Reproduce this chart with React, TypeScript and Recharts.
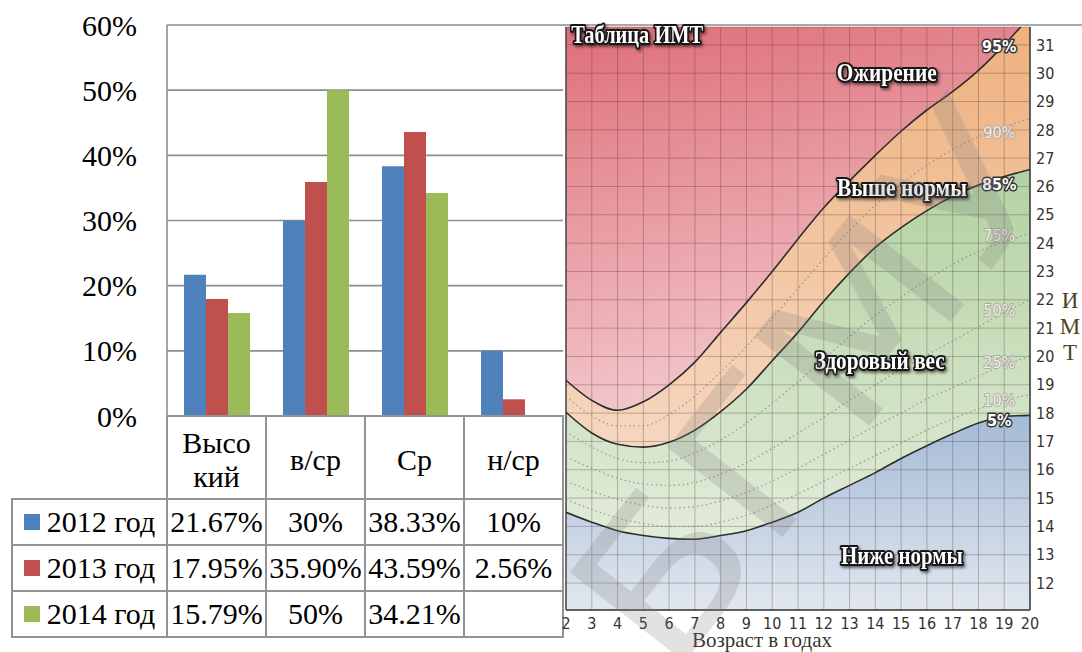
import React from 'react';
import {
  BarChart,
  Bar,
  XAxis,
  YAxis,
  CartesianGrid,
  ComposedChart,
  Area,
  Line,
  ReferenceLine,
  ReferenceDot,
  Label,
} from 'recharts';

// ---- левая диаграмма: уровни по годам ----
const categories = ['Высо\nкий', 'в/ср', 'Ср', 'н/ср'];
const yearNames = ['2012 год', '2013 год', '2014 год'];
const share2012 = [21.67, 30, 38.33, 10];
const share2013 = [17.95, 35.9, 43.59, 2.56];
const share2014 = [15.79, 50, 34.21, null];
const percentTicks = [0, 10, 20, 30, 40, 50, 60];
const yearColors = ['#4F81BD', '#C0504D', '#9BBB59'];

// ---- таблица ИМТ (центильные кривые) ----
const ages = [2, 3, 4, 5, 6, 7, 8, 9, 10, 11, 12, 13, 14, 15, 16, 17, 18, 19, 20];
const bmiTicks = [12, 13, 14, 15, 16, 17, 18, 19, 20, 21, 22, 23, 24, 25, 26, 27, 28, 29, 30, 31];
const p5 = [14.5, 14.15, 13.85, 13.68, 13.58, 13.55, 13.68, 13.85, 14.15, 14.5, 15.0, 15.45, 15.9, 16.4, 16.85, 17.27, 17.65, 17.88, 17.92];
const p10 = [14.95, 14.6, 14.3, 14.1, 14.0, 14.0, 14.15, 14.4, 14.75, 15.15, 15.6, 16.05, 16.5, 16.95, 17.4, 17.8, 18.15, 18.45, 18.65];
const p25 = [15.6, 15.25, 14.95, 14.75, 14.65, 14.7, 14.9, 15.2, 15.6, 16.05, 16.55, 17.05, 17.55, 18.0, 18.5, 18.9, 19.3, 19.7, 20.0];
const p50 = [16.45, 16.05, 15.7, 15.5, 15.45, 15.55, 15.85, 16.25, 16.75, 17.3, 17.85, 18.45, 19.0, 19.55, 20.05, 20.55, 21.05, 21.55, 22.0];
const p75 = [17.35, 16.8, 16.4, 16.25, 16.3, 16.6, 17.05, 17.65, 18.35, 19.1, 19.9, 20.7, 21.45, 22.1, 22.7, 23.25, 23.7, 24.05, 24.35];
const p85 = [18.03, 17.3, 16.9, 16.8, 16.97, 17.4, 18.05, 18.85, 19.85, 20.85, 21.95, 22.95, 23.85, 24.55, 25.15, 25.65, 26.05, 26.35, 26.6];
const p90 = [18.6, 17.9, 17.55, 17.55, 17.95, 18.6, 19.45, 20.35, 21.35, 22.4, 23.45, 24.45, 25.35, 26.1, 26.75, 27.3, 27.75, 28.1, 28.4];
const p95 = [19.16, 18.45, 18.1, 18.4, 19.0, 19.8, 20.85, 21.9, 23.0, 24.15, 25.25, 26.2, 27.1, 27.95, 28.7, 29.35, 30.1, 31.0, 32.0];

const barData = categories.map((category, i) => ({
  category,
  y2012: share2012[i],
  y2013: share2013[i],
  y2014: share2014[i],
}));
const tableRows = [share2012, share2013, share2014];
const barKeys = ['y2012', 'y2013', 'y2014'];

const bmiData = ages.map((age, i) => ({
  age,
  p5: p5[i],
  p10: p10[i],
  p25: p25[i],
  p50: p50[i],
  p75: p75[i],
  p85: p85[i],
  p90: p90[i],
  p95: p95[i],
}));

const SERIF = '"Liberation Serif", "Times New Roman", Times, serif';
const NARROW = '"Liberation Sans Narrow", "DejaVu Sans Condensed", Roboto, sans-serif';

const fmt = (v: number | null) =>
  v == null ? '' : Number.isInteger(v) ? `${v}%` : `${v.toFixed(2)}%`;

// границы таблицы под диаграммой
const COLS = [12, 167, 266, 365, 464, 563];
const ROWS = [416, 499, 545, 591, 637];

function cell(x0: number, x1: number, y0: number, y1: number): React.CSSProperties {
  return {
    position: 'absolute',
    left: x0 - 1,
    top: y0 - 1,
    width: x1 - x0 + 2,
    height: y1 - y0 + 2,
    boxSizing: 'border-box',
    border: '2px solid #939393',
    display: 'flex',
    alignItems: 'center',
    justifyContent: 'center',
    whiteSpace: 'nowrap',
    fontFamily: SERIF,
    fontSize: 30,
    color: '#000',
  };
}

function DataTable() {
  return (
    <div style={{ position: 'absolute', left: 0, top: 0 }}>
      {categories.map((c, i) => (
        <div
          key={c}
          style={{
            ...cell(COLS[i + 1], COLS[i + 2], ROWS[0], ROWS[1]),
            whiteSpace: 'pre-line',
            textAlign: 'center',
            lineHeight: '34px',
            paddingTop: 4,
          }}
        >
          {c}
        </div>
      ))}
      {tableRows.map((row, r) => (
        <React.Fragment key={yearNames[r]}>
          <div style={cell(COLS[0], COLS[1], ROWS[r + 1], ROWS[r + 2])}>
            <span style={{ display: 'inline-block', width: 16, height: 16, background: yearColors[r], marginRight: 7 }} />
            <span style={{ fontFamily: SERIF }}>{yearNames[r]}</span>
          </div>
          {row.map((v, i) => (
            <div key={i} style={cell(COLS[i + 1], COLS[i + 2], ROWS[r + 1], ROWS[r + 2])}>
              {fmt(v)}
            </div>
          ))}
        </React.Fragment>
      ))}
    </div>
  );
}

function LevelsChart() {
  return (
    <div style={{ position: 'absolute', left: 0, top: 0 }}>
      <BarChart width={563} height={440} data={barData} margin={{ top: 25, right: 0, left: 0, bottom: 24 }} barGap={0} barSize={22}>
        <CartesianGrid vertical={false} stroke="#8e8e8e" strokeWidth={1.6} />
        <XAxis dataKey="category" hide />
        <YAxis
          width={167}
          domain={[0, 60]}
          ticks={percentTicks}
          interval={0}
          tickFormatter={(v) => `${v}%`}
          tickLine={false}
          tickSize={0}
          tickMargin={30}
          axisLine={{ stroke: '#8e8e8e', strokeWidth: 1.6 }}
          tick={{ fontSize: 30, fill: '#000', fontFamily: SERIF }}
        />
        {barKeys.map((k, i) => (
          <Bar key={k} dataKey={k} name={yearNames[i]} fill={yearColors[i]} isAnimationActive={false} />
        ))}
      </BarChart>
    </div>
  );
}

const LABEL_INDEX = ages.indexOf(19);

const percentileLabel = (text: string, dy: number, strong: boolean) => (props: any) => {
  if (props.index !== LABEL_INDEX) return <g />;
  const x = props.x ?? props.viewBox?.x;
  const y = props.y ?? props.viewBox?.y;
  return (
    <text
      x={x - 5}
      y={y + dy}
      textAnchor="middle"
      dominantBaseline="central"
      fontFamily={NARROW}
      fontSize={16}
      fontWeight={strong ? 'bold' : 'normal'}
      fill={strong ? '#ffffff' : '#f3eee9'}
      stroke={strong ? '#333' : '#aaa39c'}
      strokeWidth={strong ? 2.8 : 1.6}
      paintOrder="stroke"
      strokeLinejoin="round"
    >
      {text}
    </text>
  );
};

function zoneLabel(text: string, width: number) {
  return (p: any) => (
    <text
      x={p.cx}
      y={p.cy}
      textAnchor="middle"
      dominantBaseline="central"
      fontFamily={SERIF}
      fontWeight="bold"
      fontSize={25}
      fill="#ffffff"
      stroke="#151515"
      strokeWidth={4}
      paintOrder="stroke"
      strokeLinejoin="round"
      textLength={width}
      lengthAdjust="spacingAndGlyphs"
      filter="url(#zoneShadow)"
    >
      {text}
    </text>
  );
}

function BmiChart() {
  const solid = { stroke: '#2d2d2d', strokeWidth: 1.6 };
  const dotted = { stroke: '#8c8c82', strokeWidth: 1.3, strokeDasharray: '1.5 3', strokeOpacity: 0.8 };
  return (
    <div style={{ position: 'absolute', left: 560, top: 0 }}>
      <ComposedChart width={522} height={652} data={bmiData} margin={{ top: 27, right: 0, bottom: 0, left: 6 }}>
        <defs>
          <linearGradient id="zoneRed" x1="0" y1="0" x2="0.25" y2="1">
            <stop offset="0" stopColor="#de6c76" />
            <stop offset="1" stopColor="#f3c9cd" />
          </linearGradient>
          <linearGradient id="zoneOrange" x1="0" y1="0" x2="0" y2="1">
            <stop offset="0" stopColor="#eeb07c" />
            <stop offset="1" stopColor="#f6d7c0" />
          </linearGradient>
          <linearGradient id="zoneGreen" x1="0" y1="0" x2="0" y2="1">
            <stop offset="0" stopColor="#b2d2a0" />
            <stop offset="1" stopColor="#e2ecda" />
          </linearGradient>
          <linearGradient id="zoneBlue" x1="0" y1="0" x2="0" y2="1">
            <stop offset="0" stopColor="#a4bad6" />
            <stop offset="1" stopColor="#e1e7ef" />
          </linearGradient>
          <filter id="zoneShadow" x="-20%" y="-50%" width="140%" height="200%">
            <feDropShadow dx="1.5" dy="2" stdDeviation="1.5" floodColor="#000" floodOpacity="0.55" />
          </filter>
        </defs>
        <XAxis
          type="number"
          dataKey="age"
          domain={[2, 20]}
          ticks={ages}
          interval={0}
          allowDataOverflow
          height={42}
          tickSize={0}
          tickMargin={8}
          axisLine={{ stroke: '#3a3a3a', strokeWidth: 1.5 }}
          tickLine={false}
          tick={{ fontSize: 16, fill: '#333', fontFamily: NARROW }}
        >
          <Label
            value="Возраст в годах"
            position="insideBottom"
            offset={5}
            dx={-36}
            style={{ fontFamily: SERIF, fontSize: 21, fill: '#3b352a' }}
          />
        </XAxis>
        <YAxis
          orientation="right"
          domain={[11.05, 31.63]}
          allowDataOverflow
          ticks={bmiTicks}
          interval={0}
          width={52}
          tickSize={0}
          tickMargin={6}
          tickLine={false}
          axisLine={{ stroke: '#3a3a3a', strokeWidth: 1.5 }}
          tick={{ fontSize: 16, fill: '#333', fontFamily: NARROW, textAnchor: 'start' }}
        />
        <Area type="monotone" dataKey="p95" baseValue="dataMax" stroke="none" fill="url(#zoneRed)" fillOpacity={1} isAnimationActive={false} />
        <Area type="monotone" dataKey={(d: any) => [d.p85, d.p95]} stroke="none" fill="url(#zoneOrange)" fillOpacity={1} isAnimationActive={false} />
        <Area type="monotone" dataKey={(d: any) => [d.p5, d.p85]} stroke="none" fill="url(#zoneGreen)" fillOpacity={1} isAnimationActive={false} />
        <Area type="monotone" dataKey="p5" stroke="none" fill="url(#zoneBlue)" fillOpacity={1} isAnimationActive={false} />
        <CartesianGrid stroke="#4a3030" strokeOpacity={0.3} strokeWidth={1} zIndex={150} />
        <ReferenceLine x={2} stroke="#4a4a4a" strokeWidth={1.5} />
        <Line type="monotone" dataKey="p10" dot={false} {...dotted} isAnimationActive={false} label={percentileLabel('10%', 0, false)} />
        <Line type="monotone" dataKey="p25" dot={false} {...dotted} isAnimationActive={false} label={percentileLabel('25%', -2, false)} />
        <Line type="monotone" dataKey="p50" dot={false} {...dotted} isAnimationActive={false} label={percentileLabel('50%', -2, false)} />
        <Line type="monotone" dataKey="p75" dot={false} {...dotted} isAnimationActive={false} label={percentileLabel('75%', -6, false)} />
        <Line type="monotone" dataKey="p90" dot={false} {...dotted} isAnimationActive={false} label={percentileLabel('90%', 6, false)} />
        <Line type="monotone" dataKey="p5" dot={false} {...solid} isAnimationActive={false} label={percentileLabel('5%', 4, true)} />
        <Line type="monotone" dataKey="p85" dot={false} {...solid} isAnimationActive={false} label={percentileLabel('85%', 8, true)} />
        <Line type="monotone" dataKey="p95" dot={false} {...solid} isAnimationActive={false} label={percentileLabel('95%', 2, true)} />
        <ReferenceDot x={4.76} y={31.35} r={0} shape={zoneLabel('Таблица ИМТ', 132)} />
        <ReferenceDot x={14.44} y={30.04} r={0} shape={zoneLabel('Ожирение', 100)} />
        <ReferenceDot x={15.03} y={25.98} r={0} shape={zoneLabel('Выше нормы', 130)} />
        <ReferenceDot x={14.17} y={19.86} r={0} shape={zoneLabel('Здоровый вес', 130)} />
        <ReferenceDot x={15.03} y={12.97} r={0} shape={zoneLabel('Ниже нормы', 122)} />
      </ComposedChart>
    </div>
  );
}

export default function App() {
  return (
    <div style={{ position: 'absolute', left: 0, top: 0, width: 1082, height: 652, background: '#fff', overflow: 'hidden' }}>
      <LevelsChart />
      <DataTable />
      <div style={{ position: 'absolute', left: 560, top: 24, width: 522, height: 2, background: '#a9a9a9' }} />
      <BmiChart />
      <div
        style={{
          position: 'absolute',
          left: 1058,
          top: 288,
          width: 24,
          textAlign: 'center',
          fontFamily: SERIF,
          fontSize: 23,
          lineHeight: '26px',
          color: '#4d4420',
          whiteSpace: 'pre-line',
        }}
      >
        {'И\nМ\nТ'}
      </div>
      <svg
        width={519}
        height={652}
        style={{ position: 'absolute', left: 563, top: 0, pointerEvents: 'none' }}
      >
        <text
          x={250}
          y={385}
          textAnchor="middle"
          dominantBaseline="central"
          transform="rotate(-52 250 385)"
          fontFamily="'DejaVu Sans', sans-serif"
          fontSize={200}
          textLength={640}
          lengthAdjust="spacingAndGlyphs"
          fill="#7a7a7a"
          fillOpacity={0.22}
        >
          БГМУ
        </text>
      </svg>
    </div>
  );
}
